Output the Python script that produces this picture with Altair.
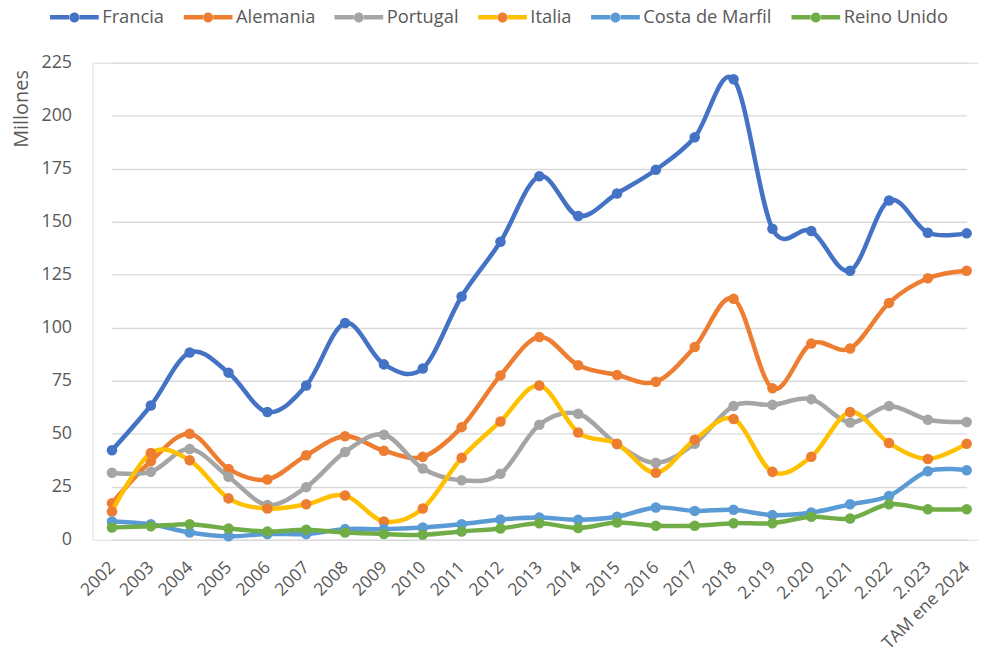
import altair as alt
import pandas as pd

categorias = ["2002", "2003", "2004", "2005", "2006", "2007", "2008", "2009", "2010",
              "2011", "2012", "2013", "2014", "2015", "2016", "2017", "2018",
              "2.019", "2.020", "2.021", "2.022", "2.023", "TAM ene 2024"]

paises = ["Francia", "Alemania", "Portugal", "Italia", "Costa de Marfil", "Reino Unido"]

francia = [42.2, 63.3, 88.3, 78.8, 60.2, 72.7, 102.2, 82.7, 80.8, 114.7, 140.5, 171.4,
           152.7, 163.3, 174.5, 189.8, 217.2, 146.7, 145.6, 126.9, 160.0, 144.8, 144.5]
alemania = [17.2, 37.0, 50.0, 33.4, 28.4, 39.8, 48.8, 42.0, 39.1, 53.1, 77.5, 95.6,
            82.3, 77.7, 74.5, 90.9, 113.6, 71.4, 92.5, 90.2, 111.7, 123.3, 126.9]
portugal = [31.6, 32.0, 42.8, 29.7, 16.4, 24.8, 41.4, 49.5, 33.6, 28.0, 31.1, 54.2,
            59.4, 45.0, 36.3, 45.3, 63.1, 63.6, 66.3, 55.3, 63.1, 56.6, 55.5]
italia = [13.3, 40.9, 37.5, 19.5, 14.7, 16.7, 20.9, 8.6, 14.7, 38.6, 55.8, 72.7,
          50.6, 45.3, 31.6, 47.2, 56.9, 32.0, 39.1, 60.2, 45.6, 38.1, 45.3]
costa_de_marfil = [8.6, 7.3, 3.4, 1.6, 2.7, 2.7, 5.0, 5.0, 5.8, 7.3, 9.5, 10.5,
                   9.4, 10.8, 15.2, 13.6, 14.1, 11.6, 12.8, 16.7, 20.6, 32.3, 32.8]
reino_unido = [5.8, 6.3, 7.3, 5.3, 3.9, 4.7, 3.4, 2.7, 2.3, 3.9, 5.3, 7.8,
               5.5, 8.1, 6.6, 6.6, 7.8, 7.8, 10.8, 10.0, 16.7, 14.4, 14.4]

colores_linea = ["#4472C4", "#ED7D31", "#A5A5A5", "#FFC000", "#5B9BD5", "#70AD47"]
colores_marcador = ["#4472C4", "#ED7D31", "#A5A5A5", "#ED7D31", "#5B9BD5", "#70AD47"]

series = [francia, alemania, portugal, italia, costa_de_marfil, reino_unido]
rows = []
for p, vals in zip(paises, series):
    for c, v in zip(categorias, vals):
        rows.append({"Pais": p, "Periodo": c, "Valor": v})
df = pd.DataFrame(rows)

FONT = "Open Sans"
GRAY_TXT = "#595959"
# legend symbol: a line with a gap, and (second legend) a dot with the same bounds
LINE_PATH = "M-1,0L-0.21,0M0.21,0L1,0"
DOT_PATH = ("M-1,0L-1,0M1,0L1,0"
            "M0.205,0A0.205,0.205 0 1,1 -0.205,0A0.205,0.205 0 1,1 0.205,0Z")
LEG_X = -45.2
LEG_Y = -73.0
LEG_FONT = 18.4
LEG_COLPAD = 9.6
TICK_FONT_Y = 18
TICK_FONT_X = 17.5

x_enc = alt.X(
    "Periodo:N",
    sort=categorias,
    scale=alt.Scale(type="point", range=[19.6, 879.6], padding=0),
    axis=alt.Axis(
        title=None, labelAngle=315, labelAlign="right", labelBaseline="middle",
        labelPadding=25, ticks=False, tickSize=0, domain=False, grid=False,
        labelOverlap=False, labelBound=False, labelFont=FONT, labelFontSize=TICK_FONT_X,
        labelColor=GRAY_TXT,
    ),
)
y_enc = alt.Y(
    "Valor:Q",
    scale=alt.Scale(domain=[0, 225], nice=False, zero=True),
    axis=alt.Axis(
        values=[0, 25, 50, 75, 100, 125, 150, 175, 200, 225],
        title="Millones", titleFont=FONT, titleFontSize=20, titleFontWeight="normal",
        titleColor=GRAY_TXT, titleAngle=270, titleAlign="right", titleBaseline="middle",
        titleX=-71, titleY=7,
        labelFont=FONT, labelFontSize=TICK_FONT_Y, labelColor=GRAY_TXT, labelPadding=21,
        ticks=False, tickSize=0, domain=False, grid=True, gridColor="#D9D9D9",
        gridWidth=1.4,
    ),
)

stroke_enc = alt.Stroke(
    "Pais:N",
    scale=alt.Scale(domain=paises, range=colores_linea),
    legend=alt.Legend(
        title=None, orient="none", legendX=LEG_X, legendY=LEG_Y, direction="horizontal",
        symbolType=LINE_PATH, symbolSize=2401, symbolStrokeWidth=4.5,
        labelFont=FONT, labelFontSize=LEG_FONT, labelColor=GRAY_TXT, labelOffset=1,
        columnPadding=LEG_COLPAD, padding=0, labelLimit=300,
    ),
)
fill_enc = alt.Fill(
    "Pais:N",
    scale=alt.Scale(domain=paises + [" "], range=colores_marcador + ["#FFFFFF"]),
    legend=alt.Legend(
        title=None, orient="none", legendX=LEG_X, legendY=LEG_Y, direction="horizontal",
        values=paises, symbolType=DOT_PATH, symbolSize=2401, symbolStrokeWidth=4.5,
        symbolStrokeColor="transparent",
        labelFont=FONT, labelFontSize=LEG_FONT, labelColor=GRAY_TXT, labelOffset=1,
        labelOpacity=0, columnPadding=LEG_COLPAD, padding=0, labelLimit=300,
    ),
)

layers = []
for p in paises:
    base = alt.Chart(df).transform_filter(alt.datum.Pais == p)
    line = base.mark_line(interpolate="cardinal", strokeWidth=4.5).encode(
        x=x_enc, y=y_enc, stroke=stroke_enc
    )
    pts = base.mark_circle(size=112, opacity=1).encode(
        x=x_enc, y=y_enc, fill=fill_enc
    )
    layers += [line, pts]

chart = alt.layer(*layers).properties(
    width=892,
    height=480,
    padding={"left": 85, "top": 53, "right": 0, "bottom": 117},
    autosize=alt.AutoSizeParams(type="none"),
).configure_view(stroke=None).configure(background="white")

chart.save("out.html", embed_options={"renderer": "svg", "actions": False})
